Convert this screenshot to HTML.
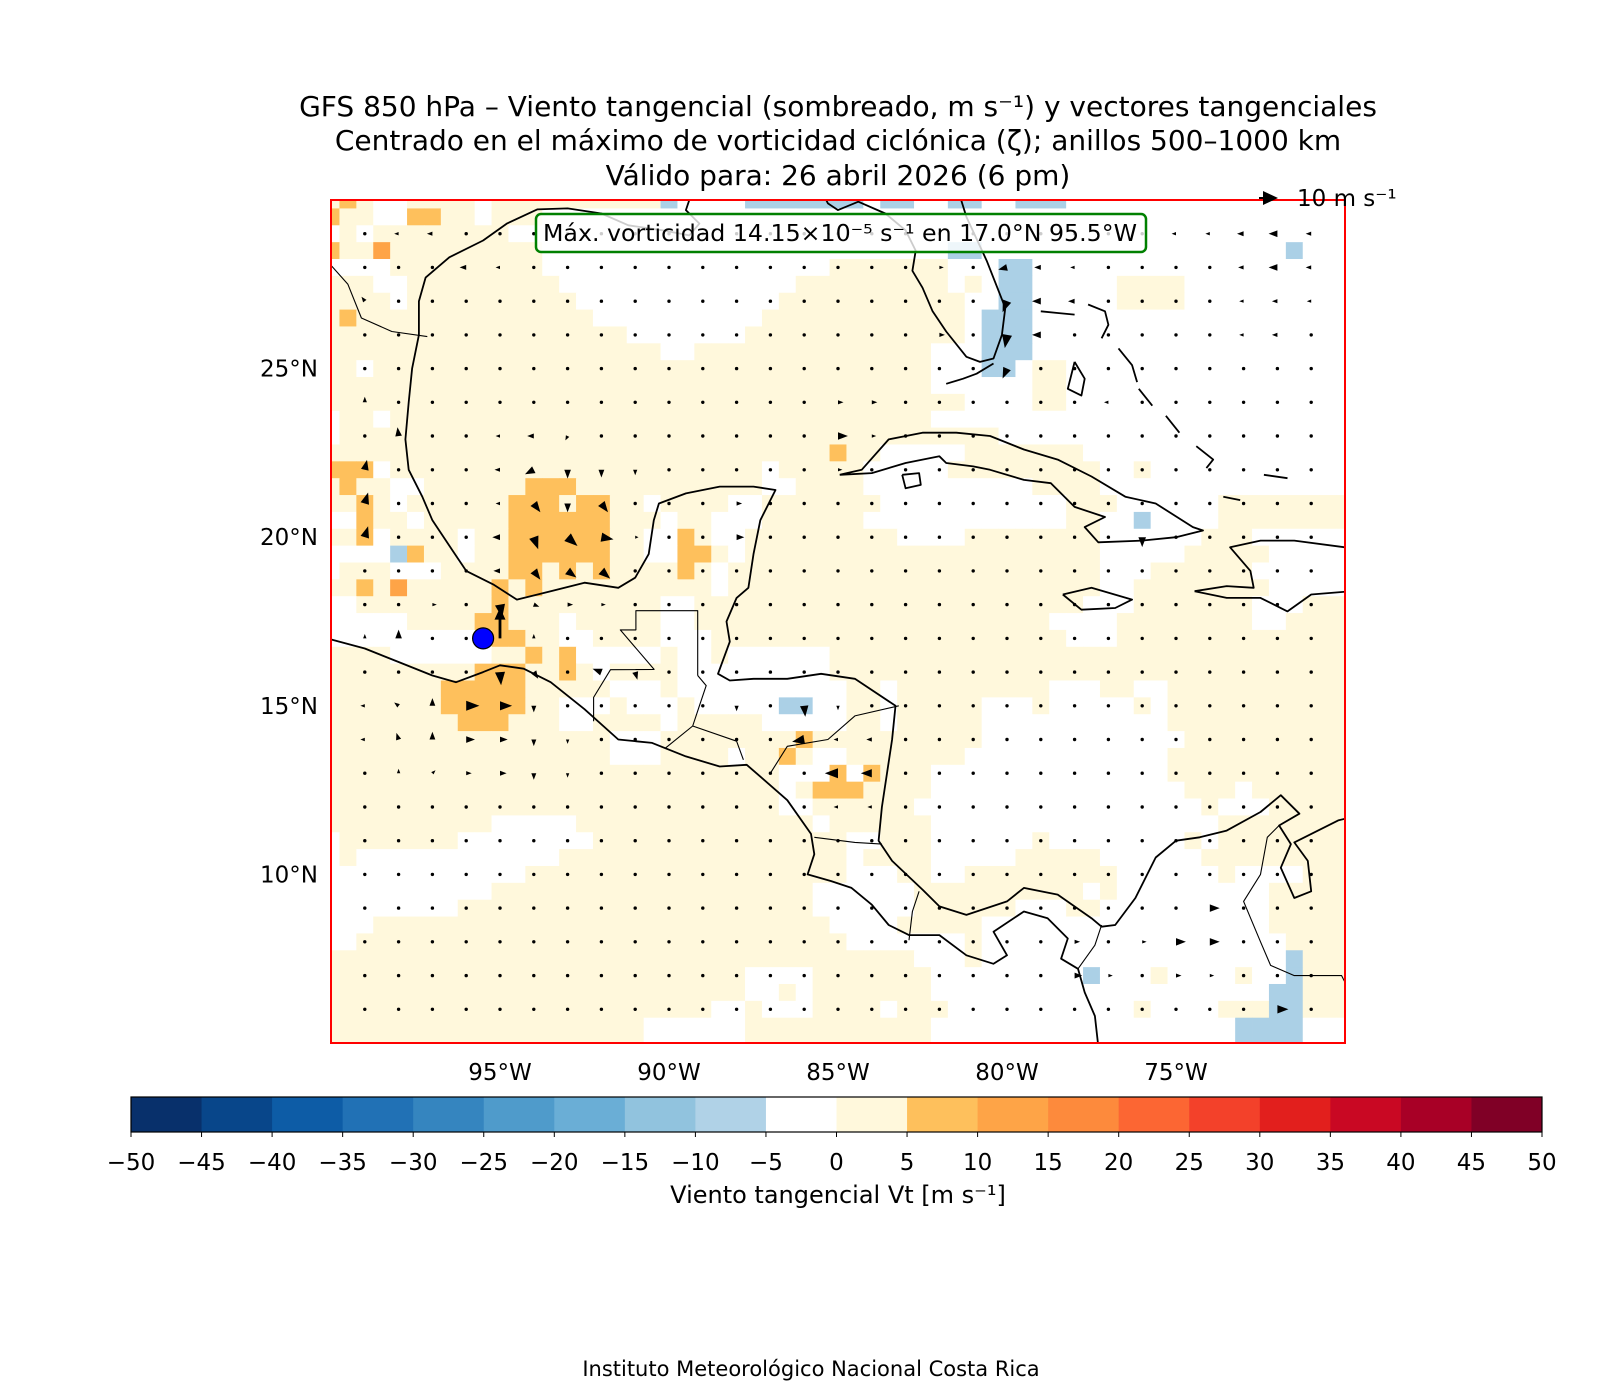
<!DOCTYPE html>
<html>
<head>
<meta charset="utf-8">
<style>
html,body{margin:0;padding:0;background:#fff;}
svg{display:block;}
text{font-family:"DejaVu Sans","Liberation Sans",sans-serif;fill:#000;}
</style>
</head>
<body>
<svg id="fig" width="1615" height="1393" viewBox="0 0 1615 1393" xmlns="http://www.w3.org/2000/svg">
  <defs>
    <clipPath id="mapclip"><rect x="331" y="200" width="1014" height="843"/></clipPath>
  </defs>
  <rect x="0" y="0" width="1615" height="1393" fill="#fff"/>
  <g text-anchor="middle" font-size="28">
    <text x="838" y="116">GFS 850 hPa – Viento tangencial (sombreado, m s⁻¹) y vectores tangenciales</text>
    <text x="838" y="150">Centrado en el máximo de vorticidad ciclónica (ζ); anillos 500–1000 km</text>
    <text x="838" y="185">Válido para: 26 abril 2026 (6 pm)</text>
  </g>
  <g id="map">
    <g id="shade" clip-path="url(#mapclip)"></g>
    <g id="coast" clip-path="url(#mapclip)" fill="none" stroke="#000"></g>
    <g id="vectors" clip-path="url(#mapclip)"></g>
    <circle id="center-marker" r="10.5" fill="#0000ff" stroke="#000" stroke-width="1.2"/>
    <rect x="331" y="200" width="1014" height="843" fill="none" stroke="#ff0000" stroke-width="2"/>
    <g>
      <rect x="536" y="214" width="610" height="38" rx="5" ry="5" fill="rgba(255,255,255,0.8)" stroke="#008000" stroke-width="2.5"/>
      <text x="543" y="241" font-size="23" textLength="594" lengthAdjust="spacingAndGlyphs">Máx. vorticidad 14.15×10⁻⁵ s⁻¹ en 17.0°N 95.5°W</text>
    </g>
    <g>
      <line x1="1259" y1="198" x2="1268" y2="198" stroke="#000" stroke-width="2"/>
      <polygon points="1263,191 1278,198 1263,205" fill="#000"/>
      <text x="1297" y="206" font-size="23">10 m s⁻¹</text>
    </g>
    <g id="xticks" font-size="23" text-anchor="middle"></g>
    <g id="yticks" font-size="23" text-anchor="end"></g>
  </g>
  <g id="colorbar"></g>
  <text x="838" y="1203" font-size="24" text-anchor="middle">Viento tangencial Vt [m s⁻¹]</text>
  <text x="811" y="1376" font-size="21" text-anchor="middle">Instituto Meteorológico Nacional Costa Rica</text>
</svg>
<script>
// ---------------- data ----------------
const lonTicks = [-95, -90, -85, -80, -75];
const lonTickLabels = ["95°W", "90°W", "85°W", "80°W", "75°W"];
const latTicks = [10, 15, 20, 25];
const latTickLabels = ["10°N", "15°N", "20°N", "25°N"];
const cbarLevels = [-50,-45,-40,-35,-30,-25,-20,-15,-10,-5,0,5,10,15,20,25,30,35,40,45,50];
const cbarColors = ['#08306b','#08468a','#0d5ca6','#2171b5','#3585bf','#4f9bcb','#6aaed6','#91c3de','#b0d2e7','#ffffff',
                    '#fff8dc','#fec05c','#fea447','#fd8a3c','#fc6633','#f3412a','#e21f1d','#c90823','#a80026','#800026'];
const shadeCodes = {y:'#fff8dc', w:'#ffffff', o:'#fec05c', O:'#fea447', b:'#abd0e6'};
const shadeRuns = [
 "1:o 3-4:w 9:w 20:b 21-24:w 25-31:b 32:w 33-34:b 35-36:w 37-38:b 39-40:w 41-43:b 44-60:w",
 "0:o 3-4:w 5-6:o 9:w 13-60:w",
 "0:w 2:w 11-60:w",
 "0:o 3:O 13-36:w 37-38:b 39-56:w 57:b 58-60:w",
 "0-3:w 13-29:w 37-39:w 40-41:b 42-60:w",
 "3-4:w 14-27:w 37:w 39:w 40-41:b 42-46:w 51-60:w",
 "4:w 15-26:w 38-39:w 40-41:b 42-46:w 51-60:w",
 "1:o 16-25:w 38:w 39-41:b 42-60:w",
 "18-24:w 38:w 39-41:b 42-60:w",
 "20-21:w 36-38:w 39-41:b 42-60:w",
 "2:w 36-38:w 39-40:b 41:w 44-60:w",
 "36-41:w 44-60:w",
 "38-41:w 44-60:w",
 "0:w 3:w 36-60:w",
 "0:w 40-60:w",
 "30:o 33-37:w 45-60:w",
 "0-2:o 3:w 26:w 32-36:w 46-47:w 49-60:w",
 "1:o 4-5:w 12-14:o 26-27:w 32-41:w 46-60:w",
 "2:o 4:w 11-13:o 15-16:o 19:w 24-25:w 33-43:w 47-52:w",
 "0-1:w 2:o 5:w 11-16:o 20:w 23-25:w 32-43:w 46-47:w 48:b 49-52:w",
 "2:o 3:w 8:w 11-16:o 19-20:w 21:o 23-24:w 34-37:w 46-51:w 55-60:w",
 "0-3:w 4:b 5:o 8:w 11-16:o 19-20:w 21-22:o 24:w 46-50:w 56-60:w",
 "0:w 4-6:w 11-12:o 14:o 16:o 21:o 23:w 46-48:w 55-60:w",
 "2:o 4:O 10:o 12:o 23:w 46-47:w 56-60:w",
 "0-1:w 10:o 20-21:w 45-47:w 55-57:w",
 "0-4:w 9-10:o 14:w 20-21:w 43-46:w 55-56:w",
 "0-9:w 10-11:o 14-15:w 20-22:w 44-46:w",
 "4-9:w 12:o 14:o 15-19:w 21-22:w 24-29:w",
 "9-11:o 14:o 16:w 21-29:w",
 "7-11:o 17-19:w 21-30:w 33:w 43-45:w 48-49:w",
 "7-11:o 14-16:w 18-20:w 22-26:w 27-28:b 29-30:w 33:w 39-41:w 43-47:w 49:w",
 "8-10:o 14-15:w 20:w 26-30:w 33:w 39-49:w",
 "17-19:w 28:o 39-50:w",
 "17-19:w 24:w 27:o 29-30:w 38-49:w",
 "27-29:w 30:o 31:w 32:o 36-49:w",
 "27:w 29-31:o 36-50:w 54:w",
 "27-28:w 35-51:w 53-55:w",
 "10-14:w 29:w 36-52:w",
 "0:w 8-15:w 31-32:w 36-41:w 43-50:w 52:w",
 "0:w 2-13:w 31:w 36-40:w 46-51:w",
 "0-11:w 31-33:w 36-37:w 47-52:w 54-57:w",
 "0-9:w 29-34:w 45:w 47-55:w",
 "0-7:w 29-34:w 41-43:w 46-55:w",
 "0-2:w 30-33:w 39-55:w",
 "0-1:w 31-37:w 39-56:w",
 "35-37:w 39-56:w 57:b",
 "25-28:w 36-44:w 45:b 46-48:w 50-53:w 55-56:w 57:b",
 "25-26:w 28:w 36-55:w 56-57:b",
 "23-24:w 26-28:w 33:w 37-47:w 49-52:w 56-57:b",
 "19-24:w 36-53:w 54-57:b 58-60:w",
 "19-24:w 36-53:w 54-57:b 58-60:w"
];
const vecLon = [-97,-98,-96,-95,-99,-99,-98,-95,-94,-93,-99,-95,-94,-93,-92,-91,-99,-95,-94,-93,-92,-88,-99,-95,-94,-93,-92,-88,-91,-95,-94,-93,-92,-95,-97,-94,-93,-92,-99,-98,-95,-94,-95,-94,-92,-91,-99,-98,-97,-96,-95,-94,-99,-98,-97,-96,-95,-94,-93,-98,-97,-96,-95,-94,-93,-88,-86,-86,-85,-85,-84,-85,-84,-85,-84,-74,-78,-76,-75,-74,-78,-77,-75,-74,-72,-75,-74,-73,-72,-71,-82,-80,-79,-78,-73,-72,-71,-80,-79,-78,-73,-72,-71,-82,-80,-79,-73,-72,-80,-85,-84,-77,-85,-84,-85,-76];
const vecLat = [29,29,28,28,27,24,23,23,23,23,22,22,22,22,22,22,21,21,21,21,21,21,20,20,20,20,20,20,20,19,19,19,19,18,18,18,18,18,17,17,17,17,16,16,16,16,15,15,15,15,15,15,14,14,14,14,14,14,14,13,13,13,13,13,13,15,15,14,15,14,14,13,13,12,12,9,8,8,8,8,7,7,7,7,6,29,29,29,29,29,28,28,28,28,28,28,28,27,27,27,27,27,27,26,26,26,26,26,25,24,24,24,23,23,22,20];
const vecU = [-2.5,-2,-3,-2,-1.5,0,-0.5,-2,-3,-1,1,-2.5,-4,0,0,0,1.5,-2,3,0,3,2.5,1.5,-3.5,2,4.5,5.5,3.5,1.5,-3,3,4,4,1,2,2.5,2.5,2,0,0,0,0,0.5,2,-4,1,-2,-2,0,6,5.5,0,-2,-1,0,4,3.5,0,0,0,1.4,2.5,3,0,0,0,0.5,-5.5,0,-2,-2.5,-6,-5,-2,-2,4.5,2.5,2,4.5,4.5,3.5,2,2.5,2,5,-2,-2,-3,-4,-2.5,2,-4,-3,-2,-2.5,-4,-2.5,-2,-4,-3,-2,-2.5,-2,2.5,-1,-4,-2,-2.5,-2,2.5,2.5,-2,4.5,2,2,0];
const vecV = [0,0,0,0,2,2.5,4,0,0,-2,4.5,0,-2,-4,-3.5,-2.5,5,0,-4,-4,-4,0,5,0,-5.5,-4,-1,0,0,0,-4,-3,-3.5,-6,0,-1,0,0,2,4,14,2,-6,-3,1.5,-3.5,0,1.5,3.5,0,0,-3,0,3,3.5,0,0,-3,-2,2,1.4,0,0,-3,-2,-2.5,-5,-1,-2,0,0,0,0,0,0,0,0,0,0,0,0,0,0,0,0,0,0,0,0,0,0,-1,0,0,0,0,0,-5,0,0,0,0,0,0,-6,0,0,0,-4.5,0,0,0,0,0,0,-4.5];
const centerLon = -95.5, centerLat = 17.0;
const coastLines = [
 {n:'gulf-coast', w:1.8, p:[[-89.3,30.3],[-89.5,29.7],[-89.1,29.3],[-89.4,28.95],[-90.2,29.1],[-91.2,29.25],[-92.0,29.6],[-93.0,29.75],[-93.9,29.72],[-94.8,29.3],[-95.5,28.8],[-96.5,28.3],[-97.2,27.7],[-97.4,27.0],[-97.4,26.0],[-97.6,25.0],[-97.7,24.0],[-97.8,22.9],[-97.7,22.0],[-97.3,21.2],[-97.0,20.5],[-96.4,19.6],[-96.0,19.0],[-95.2,18.6],[-94.5,18.15],[-93.5,18.4],[-92.5,18.65],[-91.5,18.5],[-91.0,18.8],[-90.6,19.5],[-90.45,20.5],[-90.3,21.0],[-89.5,21.3],[-88.5,21.5],[-87.5,21.5],[-86.85,21.4],[-87.3,20.5],[-87.5,19.5],[-87.65,18.5],[-88.0,18.2],[-88.3,17.5],[-88.2,16.9],[-88.55,15.95],[-88.2,15.75],[-87.5,15.8],[-86.5,15.8],[-85.5,15.95],[-84.5,15.8],[-83.3,15.0],[-83.4,14.0],[-83.55,13.0],[-83.7,12.0],[-83.8,11.0],[-83.4,10.4],[-82.5,9.55],[-82.0,9.05],[-81.2,8.8],[-80.0,9.2],[-79.5,9.6],[-78.5,9.4],[-77.5,8.7],[-77.2,8.45],[-76.8,8.5],[-76.2,9.3],[-75.6,10.5],[-75.0,11.0],[-74.3,11.1],[-73.5,11.3],[-72.5,11.85],[-71.9,12.35],[-71.35,11.8],[-71.95,11.45],[-71.6,10.9],[-71.9,10.2],[-71.5,9.3],[-71.0,9.5],[-71.1,10.4],[-71.5,10.95],[-70.2,11.6],[-69.8,11.7]]},
 {n:'pacific-coast', w:1.8, p:[[-100.3,17.05],[-99,16.7],[-98,16.3],[-97,15.9],[-96.3,15.7],[-95.5,16.0],[-95.0,16.2],[-94.3,16.1],[-93.5,15.7],[-92.5,14.9],[-91.5,14.0],[-90.5,13.9],[-89.5,13.5],[-88.5,13.2],[-87.7,13.25],[-87.3,12.9],[-86.5,12.2],[-85.8,11.2],[-85.7,10.6],[-85.9,10.0],[-85.2,9.8],[-84.6,9.6],[-84.0,9.1],[-83.5,8.5],[-82.9,8.2],[-82.0,8.2],[-81.2,7.6],[-80.4,7.35],[-80.0,7.6],[-80.4,8.3],[-79.5,8.9],[-78.8,8.7],[-78.2,8.1],[-78.4,7.5],[-77.9,7.2],[-77.7,6.5],[-77.4,5.8],[-77.3,4.9]]},
 {n:'florida-coast', w:1.8, p:[[-85.5,30.3],[-85.3,29.9],[-85.0,29.7],[-84.4,29.95],[-83.6,29.6],[-83.0,29.1],[-82.7,28.5],[-82.8,27.9],[-82.5,27.4],[-82.2,26.7],[-81.8,26.1],[-81.2,25.35],[-80.8,25.2],[-80.4,25.3],[-80.15,26.0],[-80.05,26.8],[-80.6,28.2],[-81.2,29.5],[-81.45,30.3]]},
 {n:'florida-keys', w:1.8, p:[[-80.4,25.15],[-80.9,24.85],[-81.3,24.7],[-81.8,24.55]]},
 {n:'cuba', w:1.8, p:[[-84.95,21.85],[-84.3,22.0],[-83.5,22.9],[-82.5,23.1],[-81.5,23.1],[-80.5,23.0],[-79.5,22.6],[-78.5,22.3],[-77.5,21.8],[-76.5,21.2],[-75.6,21.0],[-74.5,20.3],[-74.2,20.2],[-75.0,20.0],[-76.0,19.9],[-77.3,19.85],[-77.7,20.3],[-77.1,20.6],[-78.0,20.9],[-78.7,21.6],[-79.5,21.7],[-80.5,22.0],[-81.0,22.1],[-81.8,22.2],[-82.0,22.4],[-83.0,22.2],[-84.0,21.9],[-84.95,21.85]]},
 {n:'isla-juventud', w:1.8, p:[[-83.1,21.85],[-82.6,21.9],[-82.55,21.55],[-83.0,21.45],[-83.1,21.85]]},
 {n:'jamaica', w:1.8, p:[[-78.35,18.3],[-77.5,18.5],[-76.3,18.15],[-76.8,17.9],[-77.8,17.85],[-78.35,18.3]]},
 {n:'hispaniola', w:1.8, p:[[-74.45,18.4],[-73.5,18.55],[-72.7,18.5],[-72.8,19.0],[-73.4,19.7],[-72.5,19.9],[-71.5,19.9],[-70.0,19.7],[-69.8,19.7]]},
 {n:'hispaniola-south', w:1.8, p:[[-69.8,18.4],[-71.0,18.3],[-71.7,17.8],[-72.5,18.2],[-73.5,18.2],[-74.45,18.4]]},
 {n:'bahamas-grand', w:1.8, p:[[-79.0,26.7],[-78.5,26.65],[-78.0,26.6]]},
 {n:'bahamas-abaco', w:1.8, p:[[-77.6,26.9],[-77.1,26.7],[-77.0,26.3],[-77.2,25.9]]},
 {n:'bahamas-andros', w:1.8, p:[[-78.0,25.2],[-77.7,24.7],[-77.8,24.2],[-78.2,24.4],[-78.0,25.2]]},
 {n:'bahamas-eleuthera', w:1.8, p:[[-76.7,25.6],[-76.3,25.1],[-76.15,24.6]]},
 {n:'bahamas-exuma', w:1.8, p:[[-76.1,24.4],[-75.7,23.9]]},
 {n:'bahamas-long', w:1.8, p:[[-75.3,23.6],[-74.9,23.1]]},
 {n:'bahamas-acklins', w:1.8, p:[[-74.4,22.7],[-73.9,22.3],[-74.1,22.05]]},
 {n:'bahamas-inagua', w:1.8, p:[[-73.6,21.2],[-73.1,21.1]]},
 {n:'turks-caicos', w:1.8, p:[[-72.4,21.85],[-71.7,21.75]]},
 {n:'border-us-mexico', w:1.1, p:[[-97.15,25.95],[-98.2,26.1],[-99.1,26.5],[-99.5,27.5],[-100.3,28.4]]},
 {n:'border-mexico-guatemala', w:1.1, p:[[-92.23,14.54],[-92.23,15.25],[-91.73,16.07],[-90.44,16.08],[-91.44,17.25],[-90.98,17.25],[-90.98,17.82],[-89.15,17.82],[-89.15,15.9]]},
 {n:'border-guatemala-honduras', w:1.1, p:[[-89.15,15.9],[-88.9,15.6],[-89.1,15.0],[-89.3,14.4],[-90.1,13.75]]},
 {n:'border-honduras-elsalvador', w:1.1, p:[[-89.3,14.4],[-88.0,13.95],[-87.8,13.4]]},
 {n:'border-honduras-nicaragua', w:1.1, p:[[-83.2,15.0],[-84.5,14.7],[-85.3,14.0],[-86.5,13.8],[-87.0,13.0]]},
 {n:'border-nicaragua-costarica', w:1.1, p:[[-85.7,11.1],[-84.5,10.95],[-83.7,10.9]]},
 {n:'border-costarica-panama', w:1.1, p:[[-82.9,8.05],[-82.8,8.9],[-82.6,9.5]]},
 {n:'border-panama-colombia', w:1.1, p:[[-77.9,7.2],[-77.4,7.9],[-77.2,8.5]]},
 {n:'border-colombia-venezuela', w:1.1, p:[[-71.95,11.45],[-72.3,11.1],[-72.5,10.0],[-73.0,9.2],[-72.5,8.0],[-72.2,7.3],[-71.5,7.0],[-70.1,7.0],[-69.8,6.4]]}
];
// ---------------- helpers / axes ----------------
const NS = 'http://www.w3.org/2000/svg';
const X0 = 331, Y0 = 200, PXLON = 1014 / 30, PXLAT = 843 / 25;
function xLon(lon){ return X0 + (lon + 100) * PXLON; }
function yLat(lat){ return Y0 + (30 - lat) * PXLAT; }
function mk(tag, parent){ const e = document.createElementNS(NS, tag); parent.appendChild(e); return e; }

const shadeG = document.getElementById('shade');
shadeRuns.forEach(function(row, r){
  const codes = new Array(61).fill('y');
  row.split(' ').filter(Boolean).forEach(function(tok){
    const parts = tok.split(':'); const rg = parts[0].split('-');
    const a = +rg[0], b = rg.length > 1 ? +rg[1] : a;
    for (let c = a; c <= b; c++) codes[c] = parts[1];
  });
  const lat = 30 - r * 0.5;
  for (let c = 0; c <= 60; c++) {
    const lon = -100 + c * 0.5;
    const cell = mk('rect', shadeG);
    
    
    cell.setAttribute('x', (xLon(lon - 0.25)).toFixed(2));
    cell.setAttribute('y', (yLat(lat + 0.25)).toFixed(2));
    cell.setAttribute('width', (PXLON * 0.5 + 0.4).toFixed(2));
    cell.setAttribute('height', (PXLAT * 0.5 + 0.4).toFixed(2));
    cell.setAttribute('fill', shadeCodes[codes[c]]);
  }
});

const coastG = document.getElementById('coast');
coastLines.forEach(function(cl){
  const pl = mk('polyline', coastG);
  
  
  pl.setAttribute('points', cl.p.map(function(q){ return xLon(q[0]).toFixed(1) + ',' + yLat(q[1]).toFixed(1); }).join(' '));
  pl.setAttribute('stroke-width', cl.w);
  pl.setAttribute('stroke-linejoin', 'round');
});

const vecG = document.getElementById('vectors');
const special = {};
vecLon.forEach(function(lo, i){ special[lo + ',' + vecLat[i]] = i; });
const SCALE = 2.2;
for (let lat = 29; lat >= 6; lat--) {
  for (let lon = -99; lon <= -71; lon++) {
    if (special[lon + ',' + lat] !== undefined) continue;
    const d = mk('circle', vecG);
    
    
    d.setAttribute('cx', xLon(lon).toFixed(1));
    d.setAttribute('cy', yLat(lat).toFixed(1));
    d.setAttribute('r', 1.7);
    d.setAttribute('fill', '#000');
  }
}
vecLon.forEach(function(lo, i){
  const u = vecU[i], v = vecV[i];
  const mag = Math.sqrt(u*u + v*v);
  const L = mag * SCALE;
  const dx = u / mag, dy = -v / mag;
  const px = -dy, py = dx;
  const x0 = xLon(lo), y0 = yLat(vecLat[i]);
  const tipX = x0 + dx * L, tipY = y0 + dy * L;
  let pts;
  if (L <= 14) {
    const hw = Math.max(1.6, 0.38 * L);
    pts = [[tipX, tipY], [x0 + px*hw, y0 + py*hw], [x0 - px*hw, y0 - py*hw]];
  } else {
    const hl = 12, hw = 5.5, sw = 1.4;
    const bx = tipX - dx*hl, by = tipY - dy*hl;
    pts = [[x0 + px*sw, y0 + py*sw], [bx + px*sw, by + py*sw], [bx + px*hw, by + py*hw], [tipX, tipY],
           [bx - px*hw, by - py*hw], [bx - px*sw, by - py*sw], [x0 - px*sw, y0 - py*sw]];
  }
  const a = mk('polygon', vecG);
  
  
  a.setAttribute('points', pts.map(function(q){ return q[0].toFixed(1) + ',' + q[1].toFixed(1); }).join(' '));
  a.setAttribute('fill', '#000');
});

const cm = document.getElementById('center-marker');
cm.setAttribute('cx', xLon(centerLon));
cm.setAttribute('cy', yLat(centerLat));

const xt = document.getElementById('xticks');
lonTicks.forEach(function(lo, i){
  const t = mk('text', xt);
  
  
  t.setAttribute('x', xLon(lo));
  t.setAttribute('y', 1080);
  t.textContent = lonTickLabels[i];
});
const yt = document.getElementById('yticks');
latTicks.forEach(function(la, i){
  const t = mk('text', yt);
  
  
  t.setAttribute('x', 318);
  t.setAttribute('y', yLat(la) + 8);
  t.textContent = latTickLabels[i];
});

const cb = document.getElementById('colorbar');
const CBX0 = 131, CBX1 = 1542, CBY = 1097, CBH = 35;
function xCb(val){ return CBX0 + (val - cbarLevels[0]) / (cbarLevels[cbarLevels.length-1] - cbarLevels[0]) * (CBX1 - CBX0); }
cbarColors.forEach(function(col, i){
  const r = mk('rect', cb);
  
  
  r.setAttribute('x', xCb(cbarLevels[i]).toFixed(2));
  r.setAttribute('y', CBY);
  r.setAttribute('width', (xCb(cbarLevels[i+1]) - xCb(cbarLevels[i]) + 0.5).toFixed(2));
  r.setAttribute('height', CBH);
  r.setAttribute('fill', col);
});
const cbo = mk('rect', cb);


cbo.setAttribute('x', CBX0); cbo.setAttribute('y', CBY);
cbo.setAttribute('width', CBX1 - CBX0); cbo.setAttribute('height', CBH);
cbo.setAttribute('fill', 'none'); cbo.setAttribute('stroke', '#000'); cbo.setAttribute('stroke-width', 1.2);
cbarLevels.forEach(function(val){
  const tk = mk('line', cb);
  
  
  tk.setAttribute('x1', xCb(val)); tk.setAttribute('x2', xCb(val));
  tk.setAttribute('y1', CBY + CBH); tk.setAttribute('y2', CBY + CBH + 5);
  tk.setAttribute('stroke', '#000'); tk.setAttribute('stroke-width', 1);
  const t = mk('text', cb);
  
  
  t.setAttribute('x', xCb(val)); t.setAttribute('y', 1170);
  t.setAttribute('font-size', 23); t.setAttribute('text-anchor', 'middle');
  t.textContent = (val < 0 ? '\u2212' + Math.abs(val) : String(val));
});
</script>
</body>
</html>
